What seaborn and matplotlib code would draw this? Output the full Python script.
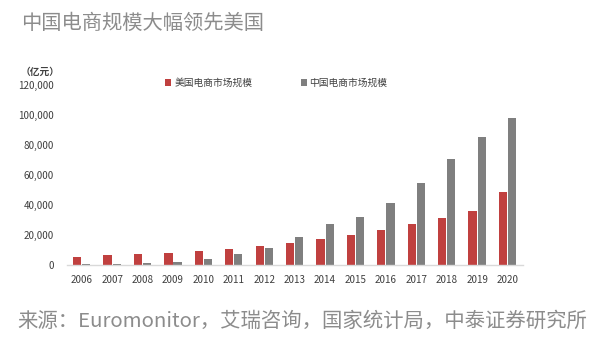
import pandas as pd
import matplotlib
matplotlib.use("Agg")
import matplotlib.pyplot as plt
import seaborn as sns
from matplotlib.ticker import FuncFormatter

# values (亿元)
years = ['2006', '2007', '2008', '2009', '2010', '2011', '2012', '2013',
         '2014', '2015', '2016', '2017', '2018', '2019', '2020']
us_sales = [5500, 6700, 7600, 7800, 9100, 10700, 12700, 14900,
            17100, 20200, 23300, 27300, 31100, 35800, 48900]
cn_sales = [300, 500, 1000, 2200, 4200, 7600, 11600, 18700,
            27600, 32200, 41600, 54700, 70400, 85300, 97800]
series_names = ['美国电商市场规模', '中国电商市场规模']
colors = ['#C0403F', '#7F7F7F']

sns.set_theme(style='white')
plt.rcParams['font.family'] = ['Noto Sans CJK SC', 'DejaVu Sans']

df = pd.DataFrame({
    'year': years * 2,
    'value': us_sales + cn_sales,
    'series': [series_names[0]] * len(years) + [series_names[1]] * len(years),
})

fig = plt.figure(figsize=(6.05, 3.59), dpi=100)
ax = fig.add_axes([0.110, 0.262, 0.754, 0.501])

sns.barplot(data=df, x='year', y='value', hue='series', palette=colors,
            width=0.6, gap=0.1, ax=ax, saturation=1, errorbar=None,
            linewidth=0)

ax.set_xlim(-0.5, 14.5)
ax.set_ylim(0, 120000)
ax.set_yticks(range(0, 120001, 20000))
ax.yaxis.set_major_formatter(FuncFormatter(lambda v, p: f'{int(v):,}'))
ax.set_xlabel('')
ax.set_ylabel('')
ax.tick_params(axis='both', length=0, labelsize=7.1, labelcolor='#404040')
ax.tick_params(axis='y', pad=9)
ax.tick_params(axis='x', pad=7)
for s in ['top', 'right', 'left']:
    ax.spines[s].set_visible(False)
ax.spines['bottom'].set_color('#d9d9d9')
ax.spines['bottom'].set_linewidth(1)

handles, labels = ax.get_legend_handles_labels()
ax.legend(handles, labels, ncol=2, frameon=False, fontsize=7,
          loc='center', bbox_to_anchor=(0.457, 0.769),
          bbox_transform=fig.transFigure,
          handlelength=0.6, handleheight=0.6, handletextpad=0.3,
          columnspacing=5.0, labelcolor='#404040')

fig.text(40 / 605, 1 - 72 / 359, '（亿元）', fontsize=7, fontweight='bold',
         color='#404040', ha='center', va='center')

fig.text(21 / 605, 1 - 23 / 359, '中国电商规模大幅领先美国', fontsize=14.6,
         color='#8c8c8c', ha='left', va='center')
fig.text(17 / 605, 1 - 321 / 359,
         '来源：Euromonitor，艾瑞咨询，国家统计局，中泰证券研究所',
         fontsize=14.7, color='#8c8c8c', ha='left', va='center')

fig.savefig('out.png', dpi=100)
